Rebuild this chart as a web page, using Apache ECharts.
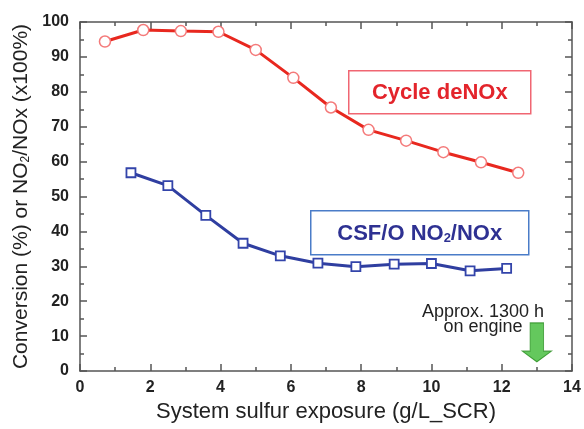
<!DOCTYPE html>
<html>
<head>
<meta charset="utf-8">
<script src="https://cdn.jsdelivr.net/npm/echarts@6/dist/echarts.min.js"></script>
<style>
html,body{margin:0;padding:0;background:#fff;}
#chart{width:584px;height:429px;}
</style>
</head>
<body>
<div id="chart"></div>
<script>
// ---- data ----
const deNOxX = [0.71, 1.80, 2.87, 3.94, 5.00, 6.07, 7.14, 8.21, 9.28, 10.34, 11.41, 12.47];
const deNOxY = [94.4, 97.7, 97.4, 97.2, 92.0, 84.0, 75.5, 69.1, 66.0, 62.7, 59.8, 56.8];
const no2X = [1.45, 2.50, 3.58, 4.64, 5.70, 6.77, 7.85, 8.94, 10.00, 11.10, 12.14];
const no2Y = [56.8, 53.1, 44.6, 36.6, 33.0, 30.9, 29.9, 30.6, 30.8, 28.7, 29.4];
const arrowPoint = [13, 8.2];
const xTicks = [0, 2, 4, 6, 8, 10, 12, 14];
const yTicks = [0, 10, 20, 30, 40, 50, 60, 70, 80, 90, 100];

const FONT = "'Liberation Sans', Arial, Helvetica, sans-serif";
const chart = echarts.init(document.getElementById('chart'), null, {renderer: 'canvas'});

const axisCommon = {
  axisLine: {show: true, onZero: false, lineStyle: {color: '#555', width: 1.5}},
  axisTick: {show: true, inside: true, length: 7, lineStyle: {color: '#555', width: 1.5}},
  minorTick: {show: true, splitNumber: 2, length: 4, lineStyle: {color: '#555', width: 1.5}},
  splitLine: {show: false}
};

const option = {
  animation: false,
  backgroundColor: '#fff',
  grid: {left: 80, right: 12, top: 22, bottom: 58, containLabel: false},
  xAxis: [
    Object.assign({}, axisCommon, {
      type: 'value', position: 'bottom',
      min: xTicks[0], max: xTicks[xTicks.length - 1], interval: 2,
      name: 'System sulfur exposure (g/L_SCR)',
      nameLocation: 'middle', nameGap: 28,
      nameTextStyle: {fontFamily: FONT, fontSize: 22, color: '#222'},
      axisLabel: {fontFamily: FONT, fontSize: 16, fontWeight: 'bold', color: '#222', margin: 9}
    }),
    Object.assign({}, axisCommon, {
      type: 'value', position: 'top',
      min: xTicks[0], max: xTicks[xTicks.length - 1], interval: 2,
      axisLabel: {show: false}
    })
  ],
  yAxis: [
    Object.assign({}, axisCommon, {
      type: 'value', position: 'left',
      min: yTicks[0], max: yTicks[yTicks.length - 1], interval: 10,
      name: 'Conversion (%) or NO{sub|2}/NOx (x100%)',
      nameLocation: 'middle', nameGap: 48,
      nameTextStyle: {
        fontFamily: FONT, fontSize: 21, color: '#222',
        rich: {sub: {fontFamily: FONT, fontSize: 12, color: '#222', verticalAlign: 'bottom'}}
      },
      axisLabel: {fontFamily: FONT, fontSize: 16, fontWeight: 'bold', color: '#222', margin: 11}
    }),
    Object.assign({}, axisCommon, {
      type: 'value', position: 'right',
      min: yTicks[0], max: yTicks[yTicks.length - 1], interval: 10,
      axisLabel: {show: false}
    })
  ],
  series: [
    {
      name: 'Cycle deNOx', type: 'line',
      data: deNOxX.map((x, i) => [x, deNOxY[i]]),
      symbol: 'circle', symbolSize: 11,
      lineStyle: {color: '#e8281f', width: 3},
      itemStyle: {color: '#fff', borderColor: '#f47a7a', borderWidth: 1.5},
      z: 3
    },
    {
      name: 'CSF/O NO2/NOx', type: 'line',
      data: no2X.map((x, i) => [x, no2Y[i]]),
      symbol: 'rect', symbolSize: 9,
      lineStyle: {color: '#2f3ea0', width: 3},
      itemStyle: {color: '#fff', borderColor: '#3344aa', borderWidth: 1.8},
      z: 3
    },
    {
      name: 'arrow', type: 'scatter',
      data: [arrowPoint],
      symbol: 'path://M7.5,0 L20.5,0 L20.5,29 L28,29 L14,40 L0,29 L7.5,29 Z',
      symbolSize: [29, 39],
      itemStyle: {color: '#3dba35', borderColor: '#2a8f22', borderWidth: 1},
      z: 4
    }
  ],
  graphic: [
    {
      type: 'group', left: 348, top: 70,
      children: [
        {type: 'rect', shape: {x: 0, y: 0, width: 182, height: 43},
         style: {fill: '#fff', stroke: '#f06672', lineWidth: 1.5}},
        {type: 'text', x: 91, y: 22,
         style: {text: 'Cycle deNOx', fill: '#e3242b', font: 'bold 22px ' + FONT,
                 textAlign: 'center', textVerticalAlign: 'middle'}}
      ]
    },
    {
      type: 'group', left: 310, top: 210,
      children: [
        {type: 'rect', shape: {x: 0, y: 0, width: 218, height: 44},
         style: {fill: '#fff', stroke: '#4a7cc8', lineWidth: 1.5}},
        {type: 'text', x: 109, y: 23,
         style: {text: 'CSF/O NO{sub|2}/NOx', fill: '#2e3192', font: 'bold 22px ' + FONT,
                 textAlign: 'center', textVerticalAlign: 'middle',
                 rich: {sub: {fill: '#2e3192', font: 'bold 13px ' + FONT, verticalAlign: 'bottom'}}}}
      ]
    },
    {
      type: 'text', x: 483, y: 320,
      style: {text: 'Approx. 1300 h\non engine', fill: '#222', font: '18px ' + FONT,
              lineHeight: 15, textAlign: 'center', textVerticalAlign: 'middle'}
    }
  ]
};
chart.setOption(option);
</script>
</body>
</html>
